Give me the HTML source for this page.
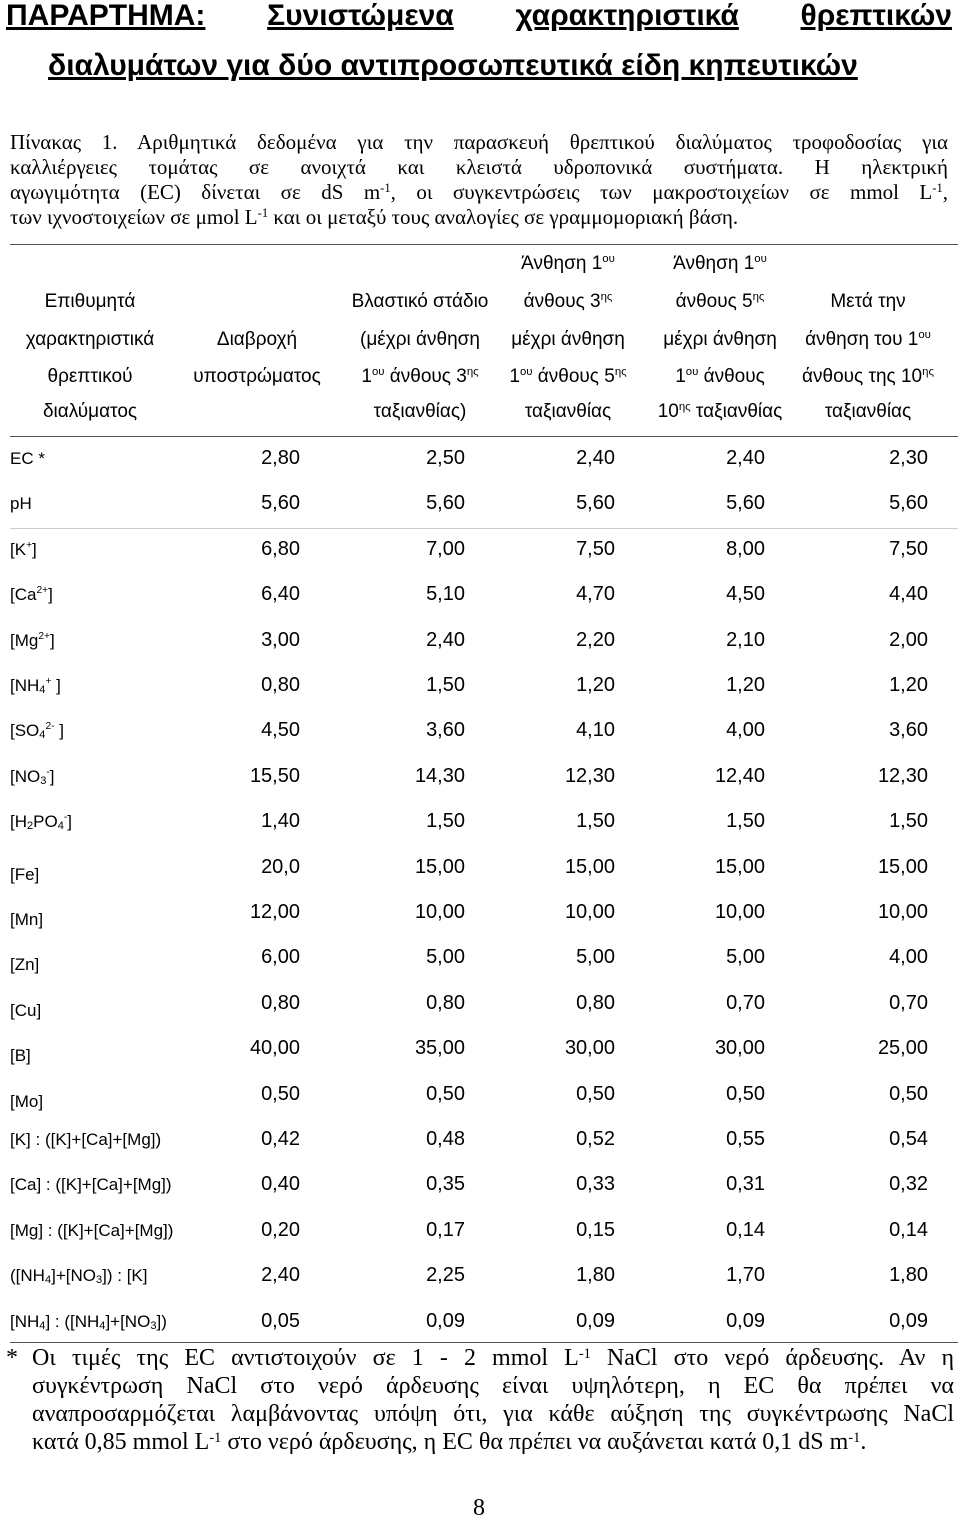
<!DOCTYPE html>
<html><head><meta charset="utf-8">
<style>
html,body{margin:0;padding:0;background:#fff;}
body{width:960px;height:1519px;position:relative;overflow:hidden;color:#000;}
.a{position:absolute;white-space:nowrap;}
.t{font-family:"Liberation Sans",sans-serif;font-weight:bold;font-size:30px;text-decoration:underline;}
.s{font-family:"Liberation Serif",serif;font-size:21px;}
.f{font-family:"Liberation Serif",serif;font-size:24px;}
.j{text-align:justify;text-align-last:justify;width:938px;left:10px;}
.h{font-family:"Liberation Sans",sans-serif;font-size:19px;transform:translateX(-50%);}
.c{font-family:"Liberation Sans",sans-serif;font-size:17px;}
.v{font-family:"Liberation Sans",sans-serif;font-size:20px;}
.r{transform:translateX(-100%);}
.ln{position:absolute;height:1px;background:#555;}
sup{font-size:60%;vertical-align:7px;line-height:0;}
sub{font-size:65%;vertical-align:-2px;line-height:0;}
</style></head><body>
<div class="a t" style="left:6px;top:-1px;width:946px;display:flex;justify-content:space-between"><span>ΠΑΡΑΡΤΗΜΑ:</span><span>Συνιστώμενα</span><span>χαρακτηριστικά</span><span>θρεπτικών</span></div>
<div class="a t" style="left:48px;top:49px">διαλυμάτων για δύο αντιπροσωπευτικά είδη κηπευτικών</div>

<div class="a s j" style="top:130px">Πίνακας 1. Αριθμητικά δεδομένα για την παρασκευή θρεπτικού διαλύματος τροφοδοσίας για</div>
<div class="a s j" style="top:155px">καλλιέργειες τομάτας σε ανοιχτά και κλειστά υδροπονικά συστήματα. Η ηλεκτρική</div>
<div class="a s j" style="top:180px">αγωγιμότητα (EC) δίνεται σε dS m<sup>-1</sup>, οι συγκεντρώσεις των μακροστοιχείων σε mmol L<sup>-1</sup>,</div>
<div class="a s" style="left:10px;top:205px">των ιχνοστοιχείων σε μmol L<sup>-1</sup> και οι μεταξύ τους αναλογίες σε γραμμομοριακή βάση.</div>
<div class="ln" style="left:10px;width:948px;top:244px"></div>

<div id="hdr">
<div class="a h" style="left:90px;top:291px">Επιθυμητά</div>
<div class="a h" style="left:90px;top:329px">χαρακτηριστικά</div>
<div class="a h" style="left:90px;top:366px">θρεπτικού</div>
<div class="a h" style="left:90px;top:401px">διαλύματος</div>
<div class="a h" style="left:257px;top:329px">Διαβροχή</div>
<div class="a h" style="left:257px;top:366px">υποστρώματος</div>
<div class="a h" style="left:420px;top:291px">Βλαστικό στάδιο</div>
<div class="a h" style="left:420px;top:329px">(μέχρι άνθηση</div>
<div class="a h" style="left:420px;top:366px">1<sup>ου</sup> άνθους 3<sup>ης</sup></div>
<div class="a h" style="left:420px;top:401px">ταξιανθίας)</div>
<div class="a h" style="left:568px;top:253px">Άνθηση 1<sup>ου</sup></div>
<div class="a h" style="left:568px;top:291px">άνθους 3<sup>ης</sup></div>
<div class="a h" style="left:568px;top:329px">μέχρι άνθηση</div>
<div class="a h" style="left:568px;top:366px">1<sup>ου</sup> άνθους 5<sup>ης</sup></div>
<div class="a h" style="left:568px;top:401px">ταξιανθίας</div>
<div class="a h" style="left:720px;top:253px">Άνθηση 1<sup>ου</sup></div>
<div class="a h" style="left:720px;top:291px">άνθους 5<sup>ης</sup></div>
<div class="a h" style="left:720px;top:329px">μέχρι άνθηση</div>
<div class="a h" style="left:720px;top:366px">1<sup>ου</sup> άνθους</div>
<div class="a h" style="left:720px;top:401px">10<sup>ης</sup> ταξιανθίας</div>
<div class="a h" style="left:868px;top:291px">Μετά την</div>
<div class="a h" style="left:868px;top:329px">άνθηση του 1<sup>ου</sup></div>
<div class="a h" style="left:868px;top:366px">άνθους της 10<sup>ης</sup></div>
<div class="a h" style="left:868px;top:401px">ταξιανθίας</div>
</div>
<div class="ln" style="left:10px;width:948px;top:436px"></div>
<div class="ln" style="left:10px;width:948px;top:528px;background:#ccc"></div>
<div id="rows"></div>
<div class="ln" style="left:10px;width:948px;top:1342px"></div>

<div class="a f" style="left:6px;top:1345px">*</div>
<div class="a f j" style="left:32px;width:922px;top:1345px">Οι τιμές της EC αντιστοιχούν σε 1 - 2 mmol L<sup>-1</sup> NaCl στο νερό άρδευσης. Αν η</div>
<div class="a f j" style="left:32px;width:922px;top:1373px">συγκέντρωση NaCl στο νερό άρδευσης είναι υψηλότερη, η EC θα πρέπει να</div>
<div class="a f j" style="left:32px;width:922px;top:1401px">αναπροσαρμόζεται λαμβάνοντας υπόψη ότι, για κάθε αύξηση της συγκέντρωσης NaCl</div>
<div class="a f" style="left:32px;top:1429px">κατά 0,85 mmol L<sup>-1</sup> στο νερό άρδευσης, η EC θα πρέπει να αυξάνεται κατά 0,1 dS m<sup>-1</sup>.</div>
<div class="a f" style="left:473px;top:1495px">8</div>

<script>
const labels=["EC *","pH","[K<sup>+</sup>]","[Ca<sup>2+</sup>]","[Mg<sup>2+</sup>]","[NH<sub>4</sub><sup>+</sup> ]","[SO<sub>4</sub><sup>2-</sup> ]","[NO<sub>3</sub><sup>-</sup>]","[H<sub>2</sub>PO<sub>4</sub><sup>-</sup>]","[Fe]","[Mn]","[Zn]","[Cu]","[B]","[Mo]","[K] : ([K]+[Ca]+[Mg])","[Ca] : ([K]+[Ca]+[Mg])","[Mg] : ([K]+[Ca]+[Mg])","([NH<sub>4</sub>]+[NO<sub>3</sub>]) : [K]","[NH<sub>4</sub>] : ([NH<sub>4</sub>]+[NO<sub>3</sub>])"];
const col1=["2,80","5,60","6,80","6,40","3,00","0,80","4,50","15,50","1,40","20,0","12,00","6,00","0,80","40,00","0,50","0,42","0,40","0,20","2,40","0,05"];
const col2=["2,50","5,60","7,00","5,10","2,40","1,50","3,60","14,30","1,50","15,00","10,00","5,00","0,80","35,00","0,50","0,48","0,35","0,17","2,25","0,09"];
const col3=["2,40","5,60","7,50","4,70","2,20","1,20","4,10","12,30","1,50","15,00","10,00","5,00","0,80","30,00","0,50","0,52","0,33","0,15","1,80","0,09"];
const col4=["2,40","5,60","8,00","4,50","2,10","1,20","4,00","12,40","1,50","15,00","10,00","5,00","0,70","30,00","0,50","0,55","0,31","0,14","1,70","0,09"];
const col5=["2,30","5,60","7,50","4,40","2,00","1,20","3,60","12,30","1,50","15,00","10,00","4,00","0,70","25,00","0,50","0,54","0,32","0,14","1,80","0,09"];
const cols=[col1,col2,col3,col4,col5];
const colRight=[300,465,615,765,928];
const host=document.getElementById('rows');
labels.forEach((lab,i)=>{
  const y=449+i*45.4;
  const d=document.createElement('div');
  d.className='a c';
  d.style.left='10px';
  d.style.top=(y+(i>=9&&i<=14?7:0))+'px';
  d.innerHTML=lab;
  
  
  host.appendChild(d);
  cols.forEach((c,k)=>{
    const v=document.createElement('div');
    v.className='a v r';
    v.style.left=colRight[k]+'px';
    v.style.top=(y-2)+'px';
    v.textContent=c[i];
    
    
    host.appendChild(v);
  });
});
</script>
</body></html>
